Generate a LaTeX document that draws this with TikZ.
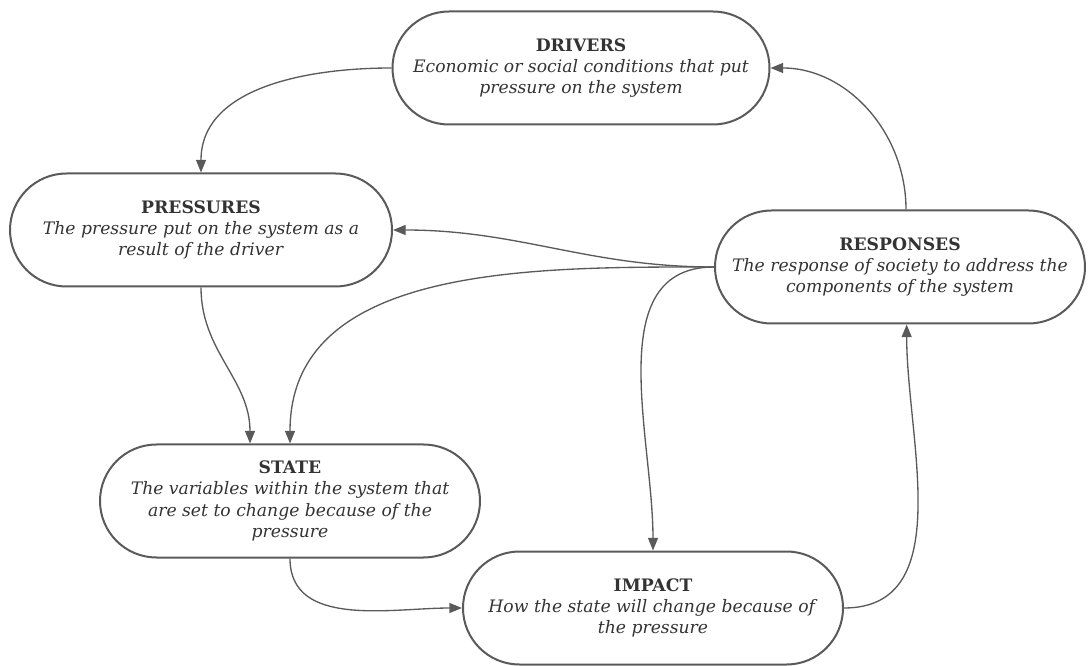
\documentclass[tikz,border=0pt]{standalone}
\usepackage{fontspec}
\setmainfont{DejaVu Serif}
\usetikzlibrary{arrows.meta,shapes.misc}
\definecolor{linegray}{HTML}{5A5A5A}
\definecolor{textgray}{HTML}{333333}
\tikzset{font=\fontsize{12.9}{16}\selectfont}
\tikzset{stage/.style={rounded rectangle, draw=linegray, line width=1.5pt,
    fill=white, align=center, text=textgray, minimum height=84.75pt,
    inner sep=0pt}}
\tikzset{flow/.style={draw=linegray, line width=1pt,
    -{Triangle[length=9.5pt,width=7.5pt]}}}

\begin{document}
\begin{tikzpicture}[x=0.75pt,y=-0.75pt]
  \useasboundingbox (0,0) rectangle (1089,666);

  \node[stage, minimum width=282.75pt] (drivers) at (581,68)
  {\textbf{DRIVERS}\\ \textit{Economic or social conditions that put}\\
    \textit{pressure on the system}};
  \node[stage, minimum width=286.5pt] (pressures) at (201,230)
  {\textbf{PRESSURES}\\ \textit{The pressure put on the system as a}\\
    \textit{result of the driver}};
  \node[stage, minimum width=277.5pt] (responses) at (900,267)
  {\textbf{RESPONSES}\\ \textit{The response of society to address the}\\
    \textit{components of the system}};
  \node[stage, minimum width=285pt] (state) at (290,501)
  {\textbf{STATE}\\ \textit{The variables within the system that}\\
    \textit{are set to change because of the}\\ \textit{pressure}};
  \node[stage, minimum width=285pt] (impact) at (653,608)
  {\textbf{IMPACT}\\ \textit{How the state will change because of}\\
    \textit{the pressure}};

  \draw[flow] (drivers.west) to[out=180,in=90] (pressures.north);
  \draw[flow] ([xshift=4.5pt]responses.north) to[out=90,in=0] (drivers.east);
  \draw[flow] (responses.west) to[out=180,in=0] (pressures.east);
  \draw[flow] (responses.west) to[out=180,in=90] (state.north);
  \draw[flow] (responses.west) to[out=180,in=90] (impact.north);
  \draw[flow] (pressures.south) to[out=-90,in=90] ([xshift=-30pt]state.north);
  \draw[flow] (state.south) to[out=-90,in=180] (impact.west);
  \draw[flow] (impact.east) to[out=0,in=-90] ([xshift=5pt]responses.south);
\end{tikzpicture}
\end{document}
